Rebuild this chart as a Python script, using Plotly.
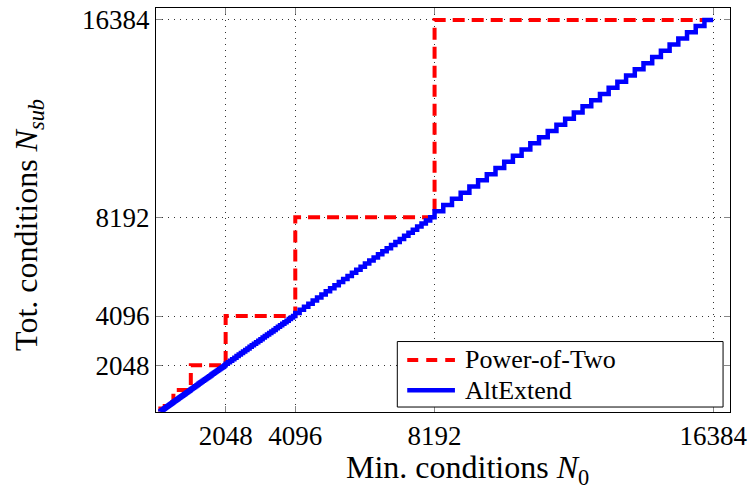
import numpy as np
import plotly.graph_objects as go

# Power-of-two grid sizes (step levels)
pow2_levels = [128, 256, 512, 1024, 2048, 4096, 8192, 16384]

# AltExtend: within each octave the size grows in fixed increments
alt_octave_start = [128, 256, 512, 1024, 2048, 4096, 8192]
alt_octave_step = [4, 8, 16, 32, 64, 128, 256]

tick_vals = [2048, 4096, 8192, 16384]
tick_text = ["2048", "4096", "8192", "16384"]

series_names = ["Power-of-Two", "AltExtend"]
series_colors = ["#ff0000", "#0000ff"]

alt_levels = []
for start, step in zip(alt_octave_start, alt_octave_step):
    alt_levels.extend(range(start, 2 * start, step))
alt_levels.append(16384)

FONT = "Liberation Serif, Times New Roman, serif"
RED_DASH = "11px,8px"

fig = go.Figure()
fig.add_trace(go.Scatter(
    x=pow2_levels, y=pow2_levels, mode="lines", line_shape="vh",
    name=series_names[0], showlegend=False,
    line=dict(color=series_colors[0], width=4, dash="12px,7px"),
))
fig.add_trace(go.Scatter(
    x=alt_levels, y=alt_levels, mode="lines", line_shape="vh",
    name=series_names[1], showlegend=False,
    line=dict(color=series_colors[1], width=4.5),
))

axis_common = dict(
    tickvals=tick_vals, ticktext=tick_text,
    showgrid=True, gridcolor="#333333", griddash="1px,5px", gridwidth=1,
    zeroline=False, showline=True, linecolor="black", linewidth=1,
    mirror="ticks", ticks="inside", ticklen=6, tickcolor="#888888",
    tickfont=dict(family=FONT, size=27, color="black"),
)
fig.update_xaxes(range=[0, 16880], **axis_common)
fig.update_yaxes(range=[112, 16880], **axis_common)

# Axis titles
fig.add_annotation(
    text="Min. conditions <i>N</i><sub>0</sub>",
    xref="paper", yref="paper", x=0.543, y=-0.142,
    xanchor="center", yanchor="middle", showarrow=False,
    font=dict(family=FONT, size=32, color="black"),
)
fig.add_annotation(
    text="Tot. conditions <i>N</i><sub><i>sub</i></sub>",
    xref="paper", yref="paper", x=-0.222, y=0.462, textangle=-90,
    xanchor="center", yanchor="middle", showarrow=False,
    font=dict(family=FONT, size=32, color="black"),
)

# Legend box with line samples and labels
fig.add_shape(type="rect", xref="paper", yref="paper",
              x0=0.4204, x1=0.9879, y0=0.0123, y1=0.1744,
              line=dict(color="black", width=1), fillcolor="white", layer="above")
legend_rows_y = [0.1290, 0.0540]
legend_dash = [RED_DASH, "solid"]
legend_width = [4, 4.5]
for name, color, ly, dash, w in zip(series_names, series_colors, legend_rows_y,
                                    legend_dash, legend_width):
    fig.add_shape(type="line", xref="paper", yref="paper",
                  x0=0.4377, x1=0.5208, y0=ly, y1=ly, layer="above",
                  line=dict(color=color, width=w, dash=dash))
    fig.add_annotation(text=name, xref="paper", yref="paper",
                       x=0.5345, y=ly, xanchor="left", yanchor="middle",
                       showarrow=False,
                       font=dict(family=FONT, size=26, color="black"))

fig.update_layout(
    width=752, height=494,
    margin=dict(l=156, r=18, t=5, b=82),
    plot_bgcolor="white", paper_bgcolor="white",
    showlegend=False,
)

fig.write_html("out.html")
